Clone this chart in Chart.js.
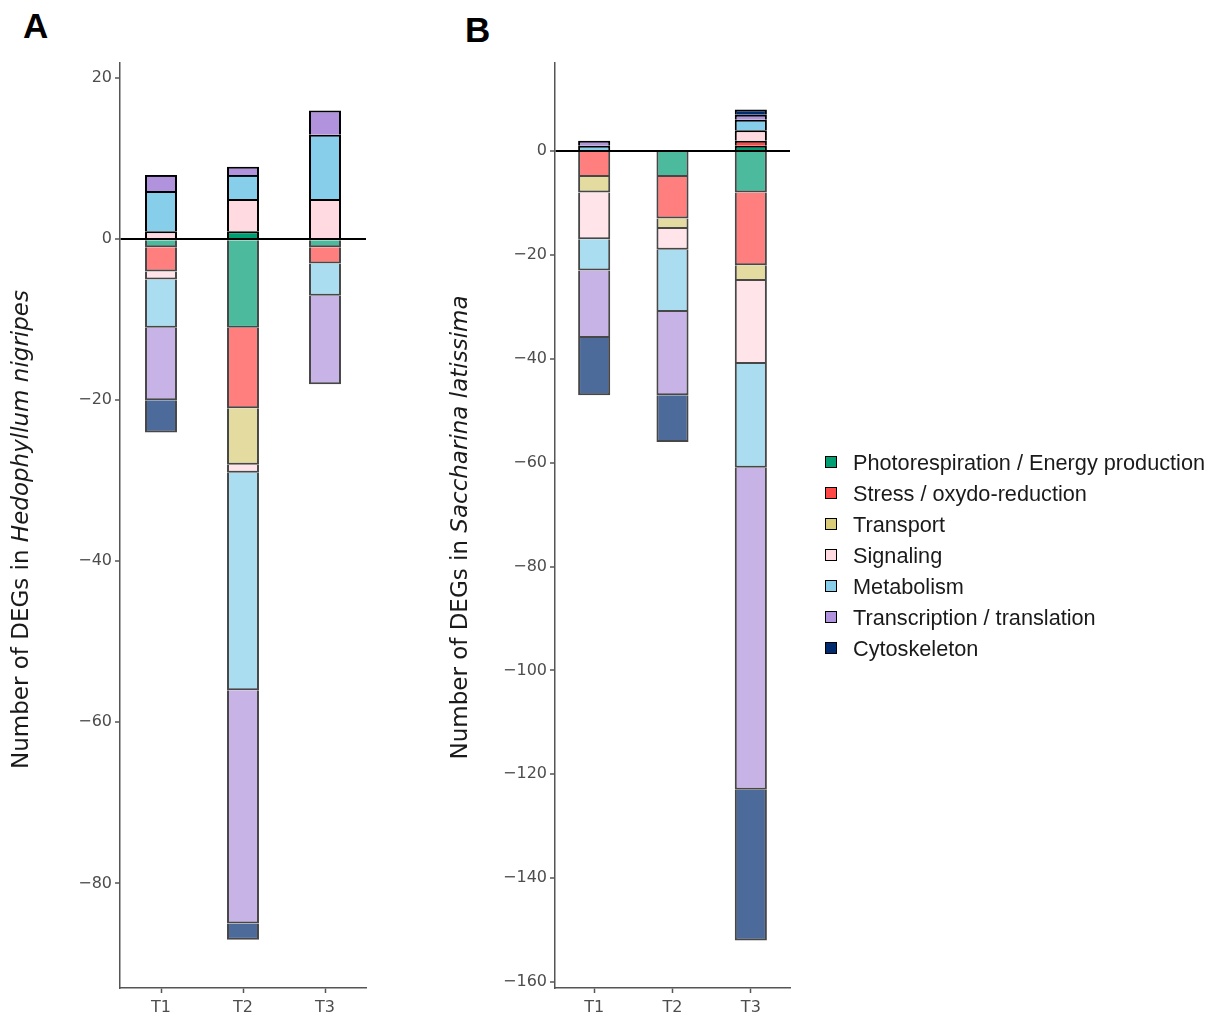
<!DOCTYPE html>
<html>
<head>
<meta charset="utf-8">
<script src="https://cdn.jsdelivr.net/npm/chart.js@4.4.1/dist/chart.umd.min.js"></script>
<style>
  body { margin: 0; background: #fff; width: 1208px; height: 1014px; position: relative; overflow: hidden; }
  .panel { position: absolute; top: 0; height: 1014px; }
  .tag { position: absolute; font: bold 35px "Liberation Sans", Arial, sans-serif; line-height: 35px; color: #000; }
  #legend { position: absolute; left: 825px; top: 0; font: 21.7px "Liberation Sans", Arial, sans-serif; color: #1a1a1a; }
  .item { position: absolute; left: 0; height: 24px; white-space: nowrap; }
  .box { position: absolute; left: 0; top: 5px; width: 10px; height: 10px; border: 1.5px solid #000; }
  .txt { position: absolute; left: 28px; top: 0; line-height: 24px; }
</style>
</head>
<body>
<div class="tag" style="left:23px;top:8px">A</div>
<div class="tag" style="left:465px;top:12px">B</div>
<div class="panel" style="left:0;width:400px"><canvas id="chartA"></canvas></div>
<div class="panel" style="left:430px;width:400px"><canvas id="chartB"></canvas></div>
<div id="legend"></div>
<script>
// categories and time points
const categories = ['Photorespiration / Energy production', 'Stress / oxydo-reduction', 'Transport',
  'Signaling', 'Metabolism', 'Transcription / translation', 'Cytoskeleton'];
const timePoints = ['T1', 'T2', 'T3'];
const colors = ['#009E73', '#FF4848', '#D8CC78', '#FFDAE0', '#87CEEB', '#B093DC', '#002B6F'];
const fadedColors = ['rgba(0,158,115,0.7)', 'rgba(255,72,72,0.7)', 'rgba(216,204,120,0.7)', 'rgba(255,218,224,0.7)',
  'rgba(135,206,235,0.7)', 'rgba(176,147,220,0.7)', 'rgba(0,43,111,0.7)'];

// Hedophyllum nigripes : up-regulated (per category, T1..T3)
const upA = [
  [0, 1, 0],
  [0, 0, 0],
  [0, 0, 0],
  [1, 4, 5],
  [5, 3, 8],
  [2, 1, 3],
  [0, 0, 0]
];
// Hedophyllum nigripes : down-regulated
const downA = [
  [-1, -11, -1],
  [-3, -10, -2],
  [0, -7, 0],
  [-1, -1, 0],
  [-6, -27, -4],
  [-9, -29, -11],
  [-4, -2, 0]
];
// Saccharina latissima : up-regulated
const upB = [
  [0, 0, 1],
  [0, 0, 1],
  [0, 0, 0],
  [0, 0, 2],
  [1, 0, 2],
  [1, 0, 1],
  [0, 0, 1]
];
// Saccharina latissima : down-regulated
const downB = [
  [0, -5, -8],
  [-5, -8, -14],
  [-3, -2, -3],
  [-9, -4, -16],
  [-6, -12, -20],
  [-13, -16, -62],
  [-11, -9, -29]
];

const ticksA = [20, 0, -20, -40, -60, -80];
const ticksB = [0, -20, -40, -60, -80, -100, -120, -140, -160];

// rotated y title, species name in italics
const yTitlePlugin = {
  id: 'yTitle',
  afterDraw(chart, args, opts) {
    const ctx = chart.ctx;
    const area = chart.chartArea;
    ctx.save();
    ctx.translate(opts.x, (area.top + area.bottom) / 2 + opts.dy);
    ctx.rotate(-Math.PI / 2);
    const f1 = '23px "DejaVu Sans"';
    const f2 = 'italic 23px "DejaVu Sans"';
    ctx.font = f1;
    const w1 = ctx.measureText(opts.text).width;
    ctx.font = f2;
    const w2 = ctx.measureText(opts.species).width;
    const x0 = -(w1 + w2) / 2;
    ctx.fillStyle = '#1a1a1a';
    ctx.textBaseline = 'middle';
    ctx.font = f1;
    ctx.fillText(opts.text, x0, 0);
    ctx.font = f2;
    ctx.fillText(opts.species, x0 + w1, 0);
    ctx.restore();
  }
};

function buildDatasets(up, down, barPct) {
  const sets = [];
  categories.forEach((cat, i) => {
    sets.push({
      label: cat,
      data: up[i].map(v => v === 0 ? null : v),
      backgroundColor: colors[i],
      borderColor: '#000',
      borderWidth: 2,
      barPercentage: barPct,
      categoryPercentage: 1
    });
  });
  categories.forEach((cat, i) => {
    sets.push({
      label: cat + ' (down)',
      data: down[i].map(v => v === 0 ? null : v),
      backgroundColor: fadedColors[i],
      borderColor: 'rgba(0,0,0,0.72)',
      borderWidth: 2,
      barPercentage: barPct,
      categoryPercentage: 1
    });
  });
  return sets;
}

function makeChart(id, up, down, cfg) {
  const ctx = document.getElementById(id).getContext('2d');
  return new Chart(ctx, {
    type: 'bar',
    data: { labels: timePoints, datasets: buildDatasets(up, down, cfg.barPct) },
    options: {
      responsive: true,
      maintainAspectRatio: false,
      animation: false,
      layout: { padding: { top: 63, right: cfg.padRight, bottom: 0, left: 0 } },
      plugins: {
        legend: { display: false },
        tooltip: { enabled: false },
        yTitle: { x: cfg.titleX, dy: cfg.titleDy, text: 'Number of DEGs in ', species: cfg.species }
      },
      scales: {
        x: {
          stacked: true,
          afterFit: s => { s.height = 26; },
          border: { color: '#555', width: 1.5 },
          grid: { offset: false, drawOnChartArea: false, tickColor: '#555', tickLength: 5, tickWidth: 1.5 },
          ticks: { color: '#4d4d4d', font: { family: 'DejaVu Sans', size: 16 }, padding: 5 }
        },
        y: {
          stacked: true,
          min: cfg.min,
          max: cfg.max,
          afterBuildTicks: s => { s.ticks = cfg.ticks.map(v => ({ value: v })); },
          afterFit: s => { s.width = cfg.axisWidth; },
          border: { color: '#555', width: 1.5, z: 2 },
          grid: {
            z: 1,
            color: c => (c.tick && c.tick.value === 0) ? '#000' : 'rgba(0,0,0,0)',
            lineWidth: 2,
            tickColor: '#555',
            tickLength: 5,
            tickWidth: 1.5
          },
          ticks: {
            color: '#4d4d4d',
            font: { family: 'DejaVu Sans', size: 16 },
            padding: 3,
            callback: v => v < 0 ? '\u2212' + (-v) : String(v)
          }
        }
      }
    },
    plugins: [yTitlePlugin]
  });
}

makeChart('chartA', upA, downA, {
  barPct: 0.39, padRight: 34, axisWidth: 120, min: -93, max: 21.9, ticks: ticksA,
  titleX: 22, titleDy: 4, species: 'Hedophyllum nigripes'
});
makeChart('chartB', upB, downB, {
  barPct: 0.41, padRight: 40, axisWidth: 125, min: -161.15, max: 16.95, ticks: ticksB,
  titleX: 31, titleDy: 2, species: 'Saccharina latissima'
});

// legend built from the same category / colour arrays
const legend = document.getElementById('legend');
categories.forEach((cat, i) => {
  const item = document.createElement('div');
  item.className = 'item';
  item.style.top = (451 + 31 * i) + 'px';
  const box = document.createElement('span');
  box.className = 'box';
  box.style.background = colors[i];
  const txt = document.createElement('span');
  txt.className = 'txt';
  txt.textContent = cat;
  item.appendChild(box);
  item.appendChild(txt);
  legend.appendChild(item);
});
</script>
</body>
</html>
